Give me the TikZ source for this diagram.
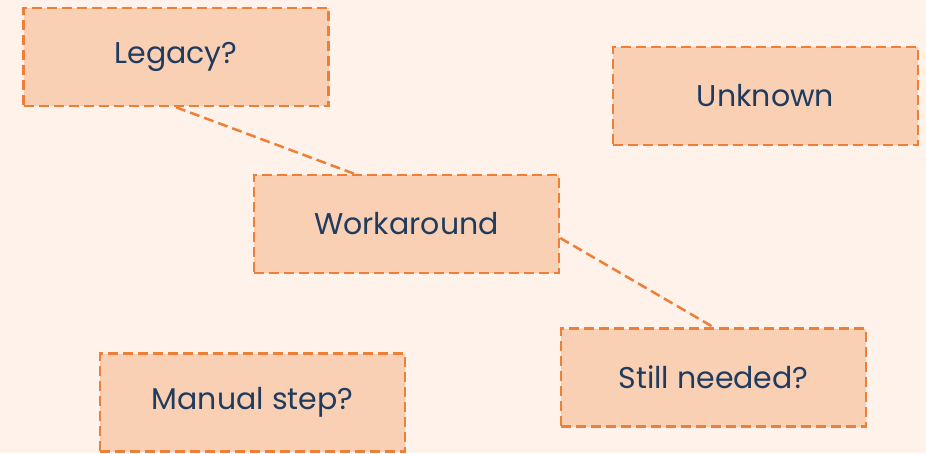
\documentclass[tikz,border=0pt]{standalone}
\usepackage{fontspec}
\setmainfont{Poppins}
\usepackage{xcolor}
\usetikzlibrary{positioning,calc}
\definecolor{bgpeach}{HTML}{FEF2EA}
\definecolor{boxfill}{HTML}{FAD0B5}
\definecolor{boxline}{HTML}{EF7F36}
\definecolor{textblue}{HTML}{1F3B5E}

\begin{document}
\begin{tikzpicture}[
    x=1pt, y=-1pt,
    note/.style={rectangle, draw=boxline, fill=boxfill, line width=2.5pt, dash pattern=on 10pt off 5pt,
        minimum width=305pt, minimum height=98pt, align=center, text=textblue,
        font=\fontsize{30}{36}\selectfont},
    link/.style={draw=boxline, line width=2.5pt, dash pattern=on 10pt off 5pt}
]
    \fill[bgpeach] (0,0) rectangle (926,453);
    \useasboundingbox (0,0) rectangle (926,453);

    \node[note] (legacy) at (176,57) {Legacy?};
    \node[note] (unknown) at (765.5,96) {Unknown};
    \node[note] (work) at (406.5,224) {Workaround};
    \node[note] (still) at (713.5,377.5) {Still needed?};
    \node[note] (manual) at (252.5,402.5) {Manual step?};

    \coordinate (worktop) at ($(work.north west)!0.33!(work.north east)$);
    \coordinate (workside) at ($(work.east)+(0,14)$);

    \draw[link] (legacy.south) -- (worktop);
    \draw[link] (workside) -- (still.north);
\end{tikzpicture}
\end{document}
